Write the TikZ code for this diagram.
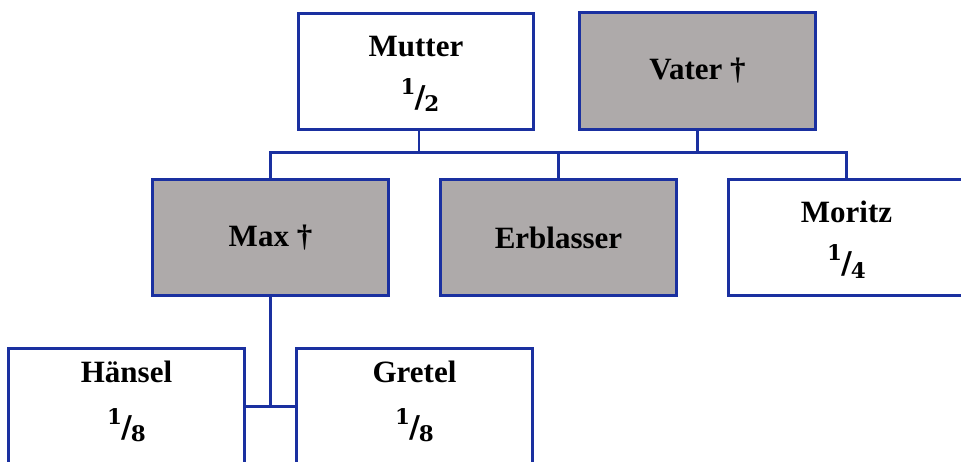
\documentclass[tikz,border=0pt]{standalone}
\usepackage{fontspec}
\setmainfont{Liberation Serif}
\newfontfamily\djv{DejaVu Serif}
\definecolor{boxblue}{HTML}{1A30A0}
\definecolor{boxgray}{HTML}{AEAAAA}
\newcommand\myfrac[2]{{\fontsize{21.5}{21.5}\selectfont\djv\bfseries\raisebox{17.5pt}{#1}}\kern-1pt\raisebox{4.5pt}{\fontsize{30}{30}\selectfont\djv /}\kern-1pt{\fontsize{21.5}{21.5}\selectfont\djv\bfseries #2}}
\newcommand\topstrut{\rule{0pt}{26pt}}
\tikzset{
  famrow/.style={draw=boxblue, line width=2.9pt, minimum width=235.5pt, minimum height=116.5pt,
    inner sep=0pt, align=center, font=\fontsize{31}{37}\selectfont\bfseries},
  heir/.style={famrow, fill=white},
  dead/.style={famrow, fill=boxgray},
  link/.style={draw=boxblue, line width=2.5pt}
}
\begin{document}
\begin{tikzpicture}[x=1pt,y=-1pt]
\useasboundingbox (0,0) rectangle (961,462);
\clip (0,0) rectangle (961,462);
\fill[white] (0,0) rectangle (961,462);
\coordinate (busL) at (270.5,152.5);
\node[heir] (mutter) at (416,71.5) {\topstrut Mutter\\[18pt]\hspace*{8pt}\myfrac{1}{2}};
\node[dead] (vater) at (697.5,71) {Vater †};
\node[dead] (max) at (270.5,237.5) {Max †};
\node[dead] (erblasser) at (558.5,237.5) {Erblasser};
\node[heir] (moritz) at (846.5,237.5) {\topstrut Moritz\\[18.5pt]\myfrac{1}{4}};
\node[heir] (haensel) at (126.5,406.5) {\topstrut Hänsel\\[22pt]\myfrac{1}{8}\rule[-14.5pt]{0pt}{14.5pt}};
\node[heir] (gretel) at (414.5,406.5) {\topstrut Gretel\\[22pt]\myfrac{1}{8}\rule[-14.5pt]{0pt}{14.5pt}};
\draw[link] (max.north) -- (max.north |- busL) -- (moritz.north |- busL) -- (moritz.north);
\draw[link] ([xshift=3pt]mutter.south) -- ([xshift=3pt]mutter.south |- busL);
\draw[link] (vater.south) -- (vater.south |- busL);
\draw[link] (erblasser.north) -- (erblasser.north |- busL);
\draw[link] (max.south) -- (max.south |- haensel.east);
\draw[link] (haensel.east) -- (gretel.west);
\end{tikzpicture}
\end{document}
